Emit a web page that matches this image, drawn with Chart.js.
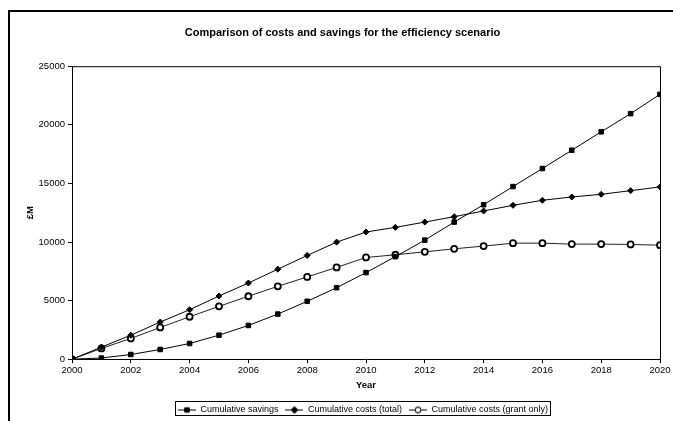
<!DOCTYPE html>
<html>
<head>
<meta charset="utf-8">
<script src="https://cdn.jsdelivr.net/npm/chart.js@4/dist/chart.umd.min.js"></script>
<style>
  html, body { margin: 0; padding: 0; background: #fff; }
  #wrap { position: relative; width: 673px; height: 421px; }
</style>
</head>
<body>
<div id="wrap"><canvas id="chart" width="673" height="421"></canvas></div>
<script>
const years = [2000, 2001, 2002, 2003, 2004, 2005, 2006, 2007, 2008, 2009, 2010,
  2011, 2012, 2013, 2014, 2015, 2016, 2017, 2018, 2019, 2020]
const savings = [0, 100, 400, 830, 1340, 2050, 2880, 3850, 4940, 6100, 7390,
  8750, 10160, 11700, 13180, 14730, 16270, 17830, 19400, 20950, 22600]
const costsTotal = [0, 1030, 2050, 3170, 4220, 5390, 6500, 7680, 8850, 9990, 10850,
  11250, 11700, 12160, 12650, 13130, 13560, 13840, 14070, 14380, 14700]
const costsGrant = [0, 920, 1770, 2710, 3620, 4510, 5370, 6220, 7020, 7830, 8680,
  8910, 9160, 9420, 9650, 9900, 9900, 9820, 9820, 9790, 9730]
const yTicks = [0, 5000, 10000, 15000, 20000, 25000]

const font = "'Liberation Sans', Arial, sans-serif"

const points = values => values.map((v, i) => ({ x: years[i], y: v }))

// little line+marker swatch for the legend
function swatch(style, radius, fill) {
  const c = document.createElement('canvas')
  c.width = 18
  c.height = 10
  const ctx = c.getContext('2d')
  ctx.strokeStyle = '#000'
  ctx.lineWidth = 1
  ctx.beginPath()
  ctx.moveTo(0, 5.5)
  ctx.lineTo(18, 5.5)
  ctx.stroke()
  Chart.helpers.drawPoint(ctx, {
    pointStyle: style, radius: radius, rotation: 0, borderWidth: fill === '#fff' ? 1.5 : 1
  }, 9, 5.5)
  ctx.fillStyle = fill
  ctx.fill()
  ctx.stroke()
  return c
}

const framePlugin = {
  id: 'frame',
  beforeDraw(chart) {
    const ctx = chart.ctx
    ctx.save()
    ctx.fillStyle = '#fff'
    ctx.fillRect(0, 0, chart.width, chart.height)
    ctx.restore()
  },
  afterLayout(chart) {
    // the legend sits under the plot area, not centred on the whole canvas
    const lg = chart.legend
    if (!lg) return
    const dx = (chart.chartArea.left + chart.chartArea.right) / 2 - (lg.left + lg.right) / 2 - 3
    lg.left += dx
    lg.right += dx
  },
  afterDraw(chart) {
    const ctx = chart.ctx
    const a = chart.chartArea
    const lg = chart.legend
    ctx.save()
    ctx.strokeStyle = '#000'
    ctx.lineWidth = 2
    ctx.beginPath()
    ctx.moveTo(9, chart.height)
    ctx.lineTo(9, 11)
    ctx.lineTo(chart.width, 11)
    ctx.stroke()
    ctx.lineWidth = 1
    ctx.beginPath()
    ctx.moveTo(a.left, a.top + 0.5)
    ctx.lineTo(a.right + 0.5, a.top + 0.5)
    ctx.lineTo(a.right + 0.5, a.bottom)
    ctx.stroke()
    if (lg && lg.legendHitBoxes.length) {
      const first = lg.legendHitBoxes[0]
      const last = lg.legendHitBoxes[lg.legendHitBoxes.length - 1]
      ctx.strokeRect(Math.round(first.left) - 2.5, Math.round(first.top) - 3.5,
        Math.round(last.left + last.width - first.left) + 5, 14)
    }
    ctx.restore()
  }
}

new Chart(document.querySelector('#chart'), {
  type: 'line',
  data: {
    datasets: [{
      label: 'Cumulative savings',
      data: points(savings),
      borderColor: '#000',
      borderWidth: 1,
      pointStyle: 'rect',
      pointRadius: 3.2,
      pointBackgroundColor: '#000',
      pointBorderColor: '#000',
      pointBorderWidth: 1
    }, {
      label: 'Cumulative costs (total)',
      data: points(costsTotal),
      borderColor: '#000',
      borderWidth: 1,
      pointStyle: 'rectRot',
      pointRadius: 3,
      pointBackgroundColor: '#000',
      pointBorderColor: '#000',
      pointBorderWidth: 1
    }, {
      label: 'Cumulative costs (grant only)',
      data: points(costsGrant),
      borderColor: '#222',
      borderWidth: 1,
      pointStyle: 'circle',
      pointRadius: 3,
      pointBackgroundColor: '#fff',
      pointBorderColor: '#000',
      pointBorderWidth: 1.8
    }]
  },
  options: {
    responsive: false,
    animation: false,
    layout: { padding: { left: 25, right: 13, top: 0, bottom: -3 } },
    plugins: {
      title: {
        display: true,
        text: 'Comparison of costs and savings for the efficiency scenario',
        color: '#000',
        font: { family: font, size: 11, weight: 'bold' },
        padding: { top: 26, bottom: 27 }
      },
      legend: {
        position: 'bottom',
        labels: {
          color: '#000',
          font: { family: font, size: 9 },
          usePointStyle: true,
          pointStyleWidth: 18,
          padding: 7,
          generateLabels(chart) {
            const styles = [['rect', 3, '#000'], ['rectRot', 3.2, '#000'], ['circle', 2.8, '#fff']]
            return chart.data.datasets.map((ds, i) => ({
              text: ds.label,
              pointStyle: swatch(...styles[i]),
              fontColor: '#000',
              lineWidth: 0,
              datasetIndex: i
            }))
          }
        }
      },
      tooltip: { enabled: false }
    },
    scales: {
      x: {
        type: 'linear',
        min: 2000,
        max: 2020,
        grid: { display: true, drawOnChartArea: false, color: '#000', tickLength: 4 },
        border: { display: true, color: '#000', width: 1 },
        ticks: {
          stepSize: 2,
          color: '#000',
          padding: 1,
          maxRotation: 0,
          font: { family: font, size: 9.5 },
          callback: v => String(v)
        },
        title: {
          display: true,
          text: 'Year',
          color: '#000',
          font: { family: font, size: 9.5, weight: 'bold' },
          padding: { top: 3, bottom: 7 }
        }
      },
      y: {
        min: 0,
        max: 25000,
        afterBuildTicks(scale) {
          scale.ticks = yTicks.map(v => ({ value: v }))
        },
        grid: { display: true, drawOnChartArea: false, color: '#000', tickLength: 4 },
        border: { display: true, color: '#000', width: 1 },
        ticks: {
          color: '#000',
          padding: 3,
          font: { family: font, size: 9.5 },
          callback: v => String(v)
        },
        title: {
          display: true,
          text: '£M',
          color: '#000',
          font: { family: font, size: 9.5, weight: 'bold' },
          padding: { top: 0, bottom: 6 }
        },
        afterFit(scale) { scale.width = 47 }
      }
    }
  },
  plugins: [framePlugin]
})
</script>
</body>
</html>
